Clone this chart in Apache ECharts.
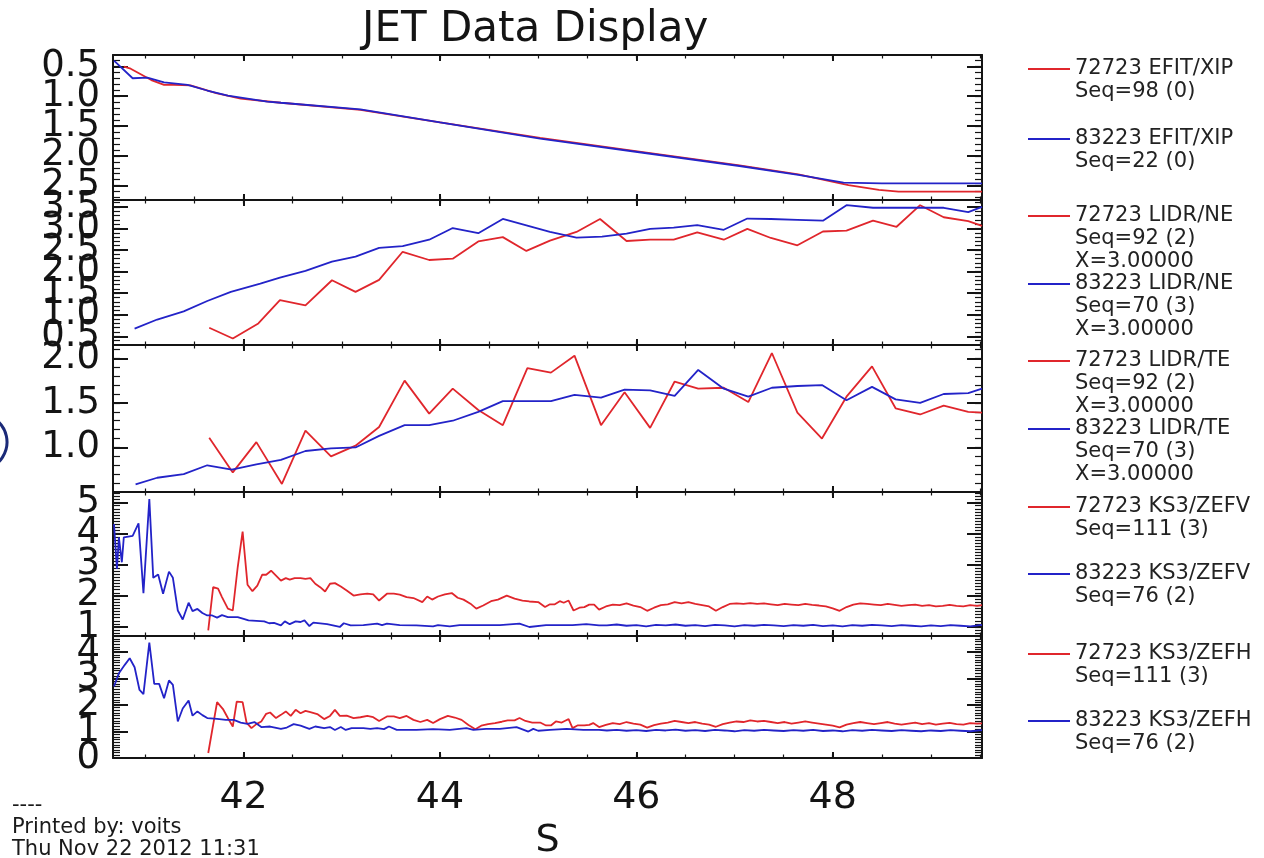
<!DOCTYPE html>
<html><head><meta charset="utf-8">
<script src="https://cdn.jsdelivr.net/npm/echarts@6/dist/echarts.min.js"></script>
<style>html,body{margin:0;padding:0;background:#fff}#c{width:1264px;height:858px}</style>
</head><body><div id="c"></div><script>
// ---------------- DATA ----------------
const xTickValues = [42, 44, 46, 48];
const xTickLabels = ['42', '44', '46', '48'];

const yTickValues = [
  [0.5, 1.0, 1.5, 2.0, 2.5],
  [0.5, 1.0, 1.5, 2.0, 2.5, 3.0, 3.5],
  [1.0, 1.5, 2.0],
  [1, 2, 3, 4, 5],
  [0, 1, 2, 3, 4]
];
const yTickLabels = [
  ['0.5', '1.0', '1.5', '2.0', '2.5'],
  ['0.5', '1.0', '1.5', '2.0', '2.5', '3.0', '3.5'],
  ['1.0', '1.5', '2.0'],
  ['1', '2', '3', '4', '5'],
  ['0', '1', '2', '3', '4']
];

// Panel 1: EFIT/XIP
const xipRedX = [40.78, 40.85, 41.06, 41.19, 41.29, 41.46, 41.72, 41.97, 42.38, 43.19, 44.00, 45.02, 46.03, 47.05, 47.65, 48.16, 48.47, 48.67, 49.52];
const xipRedY = [0.505, 0.54, 0.73, 0.81, 0.81, 0.82, 0.95, 1.04, 1.11, 1.23, 1.44, 1.70, 1.93, 2.16, 2.31, 2.49, 2.57, 2.60, 2.60];
const xipBlueX = [40.68, 40.87, 41.02, 41.19, 41.43, 41.63, 41.84, 42.04, 42.24, 42.38, 43.19, 44.00, 45.02, 46.03, 47.05, 47.65, 48.11, 48.50, 49.52];
const xipBlueY = [0.405, 0.70, 0.69, 0.77, 0.81, 0.905, 0.99, 1.04, 1.09, 1.11, 1.22, 1.44, 1.71, 1.94, 2.17, 2.32, 2.45, 2.46, 2.46];

// Panel 2: LIDR/NE
const neRedX = [41.65, 41.89, 42.15, 42.37, 42.63, 42.90, 43.14, 43.38, 43.62, 43.89, 44.13, 44.39, 44.64, 44.88, 45.12, 45.39, 45.63, 45.90, 46.14, 46.38, 46.62, 46.89, 47.13, 47.37, 47.64, 47.90, 48.14, 48.41, 48.65, 48.89, 49.13, 49.38, 49.52];
const neRedY = [0.70, 0.45, 0.80, 1.34, 1.22, 1.80, 1.53, 1.81, 2.46, 2.27, 2.30, 2.70, 2.80, 2.48, 2.72, 2.92, 3.22, 2.71, 2.74, 2.74, 2.91, 2.74, 2.99, 2.78, 2.61, 2.93, 2.95, 3.18, 3.04, 3.54, 3.26, 3.17, 3.06];
const neBlueX = [40.89, 41.12, 41.39, 41.63, 41.87, 42.17, 42.37, 42.63, 42.90, 43.14, 43.38, 43.62, 43.89, 44.13, 44.39, 44.64, 44.88, 45.12, 45.39, 45.65, 45.90, 46.14, 46.38, 46.62, 46.89, 47.13, 47.37, 47.64, 47.90, 48.14, 48.41, 48.65, 48.89, 49.13, 49.38, 49.52];
const neBlueY = [0.68, 0.89, 1.08, 1.32, 1.53, 1.72, 1.86, 2.02, 2.23, 2.35, 2.55, 2.59, 2.74, 3.01, 2.89, 3.22, 3.07, 2.92, 2.79, 2.81, 2.88, 2.99, 3.02, 3.08, 2.97, 3.23, 3.22, 3.20, 3.18, 3.54, 3.48, 3.48, 3.48, 3.48, 3.38, 3.50];

// Panel 3: LIDR/TE
const teRedX = [41.65, 41.89, 42.13, 42.39, 42.63, 42.89, 43.14, 43.38, 43.64, 43.89, 44.13, 44.39, 44.64, 44.89, 45.13, 45.37, 45.64, 45.88, 46.14, 46.39, 46.63, 46.89, 47.14, 47.38, 47.64, 47.89, 48.14, 48.40, 48.64, 48.89, 49.13, 49.38, 49.52];
const teRedY = [1.11, 0.72, 1.06, 0.59, 1.19, 0.90, 1.02, 1.23, 1.75, 1.38, 1.66, 1.42, 1.25, 1.89, 1.84, 2.03, 1.25, 1.62, 1.22, 1.74, 1.66, 1.67, 1.51, 2.06, 1.39, 1.10, 1.57, 1.91, 1.44, 1.37, 1.47, 1.40, 1.39];
const teBlueX = [40.90, 41.12, 41.39, 41.63, 41.88, 42.13, 42.38, 42.63, 42.89, 43.14, 43.38, 43.64, 43.89, 44.13, 44.39, 44.64, 44.89, 45.13, 45.37, 45.64, 45.88, 46.14, 46.39, 46.63, 46.89, 47.14, 47.38, 47.64, 47.89, 48.14, 48.40, 48.64, 48.89, 49.13, 49.38, 49.52];
const teBlueY = [0.585, 0.66, 0.70, 0.80, 0.75, 0.81, 0.86, 0.96, 0.99, 1.00, 1.13, 1.25, 1.25, 1.30, 1.40, 1.52, 1.52, 1.52, 1.59, 1.56, 1.65, 1.64, 1.58, 1.87, 1.66, 1.57, 1.67, 1.69, 1.70, 1.53, 1.68, 1.54, 1.50, 1.60, 1.61, 1.66];

// Panel 4: KS3/ZEFV
const zefvRedX = [41.64, 41.69, 41.74, 41.78, 41.84, 41.89, 41.94, 41.99, 42.04, 42.09, 42.14, 42.19, 42.23, 42.28, 42.33, 42.38, 42.43, 42.47, 42.52, 42.58, 42.63, 42.68, 42.73, 42.78, 42.83, 42.88, 42.93, 42.99, 43.05, 43.12, 43.19, 43.26, 43.32, 43.38, 43.46, 43.53, 43.59, 43.66, 43.73, 43.82, 43.87, 43.92, 43.98, 44.05, 44.12, 44.18, 44.24, 44.31, 44.37, 44.44, 44.52, 44.59, 44.68, 44.76, 44.84, 44.91, 45.00, 45.07, 45.12, 45.17, 45.22, 45.26, 45.31, 45.36, 45.42, 45.47, 45.52, 45.57, 45.62,
  45.69, 45.76, 45.83, 45.90, 45.97, 46.04, 46.11, 46.18, 46.25, 46.32, 46.39, 46.46, 46.53, 46.60, 46.67, 46.74, 46.81, 46.88, 46.95, 47.02, 47.09, 47.16, 47.23, 47.30, 47.37, 47.44, 47.51, 47.58, 47.65, 47.72, 47.79, 47.86, 47.93, 48.00, 48.07, 48.14, 48.21, 48.28, 48.35, 48.42, 48.49, 48.56, 48.63, 48.70, 48.77, 48.84, 48.91, 48.98, 49.05, 49.12, 49.19, 49.26, 49.33, 49.40, 49.47, 49.52];
const zefvRedY = [0.89, 2.28, 2.23, 1.96, 1.59, 1.53, 2.92, 4.07, 2.36, 2.15, 2.33, 2.68, 2.68, 2.81, 2.65, 2.49, 2.57, 2.52, 2.57, 2.57, 2.55, 2.57, 2.39, 2.28, 2.14, 2.39, 2.41, 2.30, 2.17, 2.01, 2.05, 2.07, 2.05, 1.85, 2.07, 2.07, 2.04, 1.96, 1.93, 1.80, 1.98, 1.88, 1.98, 2.05, 2.09, 1.94, 1.88, 1.75, 1.59, 1.69, 1.83, 1.88, 2.01, 1.91, 1.85, 1.82, 1.80, 1.64, 1.73, 1.73, 1.83, 1.78, 1.85, 1.53, 1.62, 1.64, 1.72, 1.72, 1.56,
  1.66, 1.72, 1.70, 1.76, 1.69, 1.64, 1.52, 1.62, 1.70, 1.73, 1.80, 1.76, 1.80, 1.74, 1.70, 1.66, 1.52, 1.64, 1.74, 1.76, 1.74, 1.77, 1.74, 1.76, 1.73, 1.70, 1.74, 1.72, 1.70, 1.74, 1.71, 1.69, 1.66, 1.60, 1.52, 1.64, 1.72, 1.76, 1.74, 1.72, 1.70, 1.74, 1.71, 1.68, 1.70, 1.72, 1.68, 1.70, 1.66, 1.68, 1.71, 1.68, 1.66, 1.70, 1.68, 1.70];
const zefvBlueX = [40.68, 40.71, 40.73, 40.76, 40.78, 40.87, 40.93, 40.98, 41.04, 41.08, 41.13, 41.18, 41.24, 41.28, 41.33, 41.38, 41.44, 41.48, 41.53, 41.58, 41.63, 41.68, 41.73, 41.78, 41.84, 41.94, 42.00, 42.05, 42.21, 42.26, 42.31, 42.38, 42.42, 42.47, 42.53, 42.58, 42.62, 42.67, 42.71, 42.85, 42.98, 43.02, 43.09, 43.22, 43.36, 43.41, 43.46, 43.59, 43.76, 43.93, 43.98, 44.10, 44.20, 44.44, 44.61, 44.81, 44.91, 45.08, 45.35, 45.49, 45.62,
  45.70, 45.80, 45.90, 46.00, 46.10, 46.20, 46.30, 46.40, 46.50, 46.60, 46.70, 46.80, 46.90, 47.00, 47.10, 47.20, 47.30, 47.40, 47.50, 47.60, 47.70, 47.80, 47.90, 48.00, 48.10, 48.20, 48.30, 48.40, 48.50, 48.60, 48.70, 48.80, 48.90, 49.00, 49.10, 49.20, 49.30, 49.40, 49.52];
const zefvBlueY = [4.31, 2.87, 3.88, 3.08, 3.88, 3.93, 4.33, 2.09, 5.11, 2.58, 2.69, 2.07, 2.78, 2.58, 1.53, 1.24, 1.78, 1.51, 1.58, 1.45, 1.37, 1.37, 1.30, 1.38, 1.32, 1.32, 1.26, 1.21, 1.18, 1.12, 1.13, 1.05, 1.18, 1.09, 1.18, 1.16, 1.21, 1.03, 1.14, 1.09, 1.00, 1.12, 1.05, 1.06, 1.11, 1.06, 1.11, 1.06, 1.05, 1.02, 1.06, 1.02, 1.06, 1.06, 1.06, 1.11, 1.00, 1.06, 1.06, 1.09, 1.05,
  1.05, 1.08, 1.04, 1.06, 1.02, 1.07, 1.05, 1.08, 1.04, 1.06, 1.03, 1.07, 1.05, 1.02, 1.06, 1.04, 1.07, 1.05, 1.03, 1.06, 1.04, 1.07, 1.03, 1.05, 1.02, 1.06, 1.04, 1.07, 1.05, 1.03, 1.06, 1.04, 1.02, 1.05, 1.03, 1.06, 1.04, 1.02, 1.07];

// Panel 5: KS3/ZEFH
const zefhRedX = [41.64, 41.73, 41.79, 41.84, 41.89, 41.93, 41.99, 42.03, 42.08, 42.13, 42.18, 42.23, 42.27, 42.33, 42.38, 42.43, 42.48, 42.53, 42.58, 42.63, 42.68, 42.75, 42.82, 42.88, 42.93, 42.98, 43.05, 43.12, 43.19, 43.26, 43.32, 43.38, 43.46, 43.53, 43.59, 43.66, 43.73, 43.80, 43.87, 43.93, 44.00, 44.08, 44.15, 44.22, 44.29, 44.36, 44.42, 44.49, 44.56, 44.63, 44.69, 44.76, 44.81, 44.87, 44.94, 45.02, 45.08, 45.13, 45.18, 45.24, 45.27, 45.31, 45.35, 45.40, 45.47, 45.52, 45.56, 45.62,
  45.69, 45.76, 45.83, 45.90, 45.97, 46.04, 46.11, 46.18, 46.25, 46.32, 46.39, 46.46, 46.53, 46.60, 46.67, 46.74, 46.81, 46.88, 46.95, 47.02, 47.09, 47.16, 47.23, 47.30, 47.37, 47.44, 47.51, 47.58, 47.65, 47.72, 47.79, 47.86, 47.93, 48.00, 48.07, 48.14, 48.21, 48.28, 48.35, 48.42, 48.49, 48.56, 48.63, 48.70, 48.77, 48.84, 48.91, 48.98, 49.05, 49.12, 49.19, 49.26, 49.33, 49.40, 49.47, 49.52];
const zefhRedY = [0.19, 2.11, 1.85, 1.51, 1.19, 2.13, 2.11, 1.34, 1.13, 1.28, 1.38, 1.67, 1.72, 1.51, 1.63, 1.76, 1.59, 1.82, 1.69, 1.78, 1.73, 1.66, 1.47, 1.59, 1.82, 1.59, 1.60, 1.51, 1.54, 1.59, 1.54, 1.40, 1.57, 1.57, 1.51, 1.59, 1.44, 1.36, 1.44, 1.32, 1.47, 1.59, 1.53, 1.44, 1.25, 1.09, 1.22, 1.28, 1.32, 1.37, 1.42, 1.42, 1.51, 1.40, 1.34, 1.34, 1.23, 1.23, 1.38, 1.34, 1.40, 1.47, 1.13, 1.23, 1.23, 1.25, 1.32, 1.17,
  1.25, 1.32, 1.28, 1.36, 1.30, 1.26, 1.15, 1.24, 1.30, 1.34, 1.40, 1.36, 1.32, 1.36, 1.30, 1.26, 1.18, 1.28, 1.34, 1.38, 1.36, 1.42, 1.38, 1.40, 1.36, 1.32, 1.36, 1.30, 1.34, 1.38, 1.34, 1.30, 1.26, 1.22, 1.16, 1.26, 1.32, 1.36, 1.32, 1.28, 1.32, 1.36, 1.30, 1.26, 1.30, 1.34, 1.28, 1.32, 1.26, 1.30, 1.33, 1.28, 1.26, 1.32, 1.30, 1.31];
const zefhBlueX = [40.68, 40.73, 40.79, 40.84, 40.89, 40.94, 40.98, 41.04, 41.09, 41.14, 41.19, 41.24, 41.28, 41.33, 41.38, 41.44, 41.48, 41.53, 41.58, 41.63, 41.73, 41.82, 41.90, 41.97, 42.04, 42.11, 42.18, 42.27, 42.38, 42.44, 42.51, 42.58, 42.67, 42.73, 42.82, 42.88, 42.93, 42.99, 43.04, 43.10, 43.22, 43.29, 43.36, 43.43, 43.48, 43.56, 43.76, 43.93, 44.10, 44.27, 44.34, 44.47, 44.61, 44.78, 44.90, 44.95, 45.00, 45.12, 45.29, 45.46, 45.62,
  45.70, 45.80, 45.90, 46.00, 46.10, 46.20, 46.30, 46.40, 46.50, 46.60, 46.70, 46.80, 46.90, 47.00, 47.10, 47.20, 47.30, 47.40, 47.50, 47.60, 47.70, 47.80, 47.90, 48.00, 48.10, 48.20, 48.30, 48.40, 48.50, 48.60, 48.70, 48.80, 48.90, 49.00, 49.10, 49.20, 49.30, 49.40, 49.52];
const zefhBlueY = [2.70, 3.20, 3.52, 3.77, 3.43, 2.57, 2.41, 4.36, 2.80, 2.80, 2.26, 2.93, 2.76, 1.38, 1.87, 2.17, 1.60, 1.76, 1.62, 1.51, 1.48, 1.44, 1.44, 1.34, 1.29, 1.36, 1.17, 1.19, 1.10, 1.15, 1.28, 1.22, 1.10, 1.19, 1.13, 1.17, 1.06, 1.17, 1.06, 1.13, 1.13, 1.10, 1.13, 1.09, 1.19, 1.06, 1.06, 1.09, 1.06, 1.13, 1.06, 1.10, 1.10, 1.17, 1.00, 1.10, 1.03, 1.06, 1.10, 1.06, 1.06,
  1.04, 1.06, 1.03, 1.05, 1.02, 1.06, 1.04, 1.07, 1.03, 1.05, 1.02, 1.06, 1.04, 1.01, 1.05, 1.03, 1.06, 1.04, 1.02, 1.05, 1.03, 1.06, 1.02, 1.04, 1.01, 1.05, 1.03, 1.06, 1.04, 1.02, 1.05, 1.03, 1.01, 1.04, 1.02, 1.05, 1.03, 1.01, 1.05];

const seriesNames = ['72723 EFIT/XIP', '83223 EFIT/XIP', '72723 LIDR/NE', '83223 LIDR/NE', '72723 LIDR/TE', '83223 LIDR/TE', '72723 KS3/ZEFV', '83223 KS3/ZEFV', '72723 KS3/ZEFH', '83223 KS3/ZEFH'];
const legendSubLines = [
  ['Seq=98 (0)'], ['Seq=22 (0)'],
  ['Seq=92 (2)', 'X=3.00000'], ['Seq=70 (3)', 'X=3.00000'],
  ['Seq=92 (2)', 'X=3.00000'], ['Seq=70 (3)', 'X=3.00000'],
  ['Seq=111 (3)'], ['Seq=76 (2)'],
  ['Seq=111 (3)'], ['Seq=76 (2)']
];
const footerLines = ['----', 'Printed by: voits', 'Thu Nov 22 2012 11:31'];

// ---------------- LAYOUT / STYLE ----------------
const FONT = "'DejaVu Sans', 'Liberation Sans', sans-serif";
const INK = '#141414';
const RED = '#e0262c';
const BLUE = '#2323c8';
const X_MIN = 40.67, X_MAX = 49.52;
const GRID_LEFT = 113, GRID_W = 869;
const panels = [
  { top: 55,  height: 145, min: 0.31, max: 2.74, inverse: true,  majorTicks: [0.5, 1, 1.5, 2, 2.5],           minor: [0.4, 2.7] },
  { top: 200, height: 145, min: 0.30, max: 3.66, inverse: false, majorTicks: [0.5, 1, 1.5, 2, 2.5, 3, 3.5],   minor: [0.4, 3.6] },
  { top: 345, height: 147, min: 0.50, max: 2.15, inverse: false, majorTicks: [0.5, 1, 1.5, 2],                minor: [0.6, 2.1] },
  { top: 492, height: 144, min: 0.71, max: 5.34, inverse: false, majorTicks: [1, 2, 3, 4, 5],                 minor: [0.8, 5.3] },
  { top: 636, height: 122, min: 0.00, max: 4.61, inverse: false, majorTicks: [0, 1, 2, 3, 4],                 minor: [0.1, 4.6] }
];
function steps(a, b, s) { const out = []; for (let v = a; v <= b + 1e-9; v += s) out.push(Math.round(v * 1000) / 1000); return out; }
const xMinorTicks = steps(41, 49.5, 0.5);

const grid = [], xAxis = [], yAxis = [];
const mainY = []; // index of the main (left) y axis for each panel
panels.forEach((p, g) => {
  grid.push({ left: GRID_LEFT, width: GRID_W, top: p.top, height: p.height, outerBoundsMode: 'none', containLabel: false });
  const mainX = xAxis.length;
  ['bottom', 'top'].forEach(pos => {
    const isLabelled = (g === 4 && pos === 'bottom');
    xAxis.push({
      gridIndex: g, type: 'value', position: pos, min: X_MIN, max: X_MAX,
      axisLine: { show: true, onZero: false, lineStyle: { color: INK, width: 2 } },
      axisTick: { show: true, inside: true, length: 6, customValues: xTickValues, lineStyle: { color: INK, width: 2 } },
      axisLabel: isLabelled ? {
        show: true, customValues: xTickValues, margin: 21, showMinLabel: true, showMaxLabel: true,
        formatter: v => xTickLabels[xTickValues.indexOf(v)],
        fontSize: 38, fontFamily: FONT, color: INK
      } : { show: false },
      name: isLabelled ? 'S' : '', nameLocation: 'middle', nameGap: 64,
      nameTextStyle: { fontSize: 38, fontFamily: FONT, color: INK },
      splitLine: { show: false }, minorTick: { show: false }
    });
    xAxis.push({
      gridIndex: g, type: 'value', position: pos, min: X_MIN, max: X_MAX,
      axisLine: { show: false, onZero: false },
      axisTick: { show: true, inside: true, length: 3.5, customValues: xMinorTicks, lineStyle: { color: INK, width: 1.2 } },
      axisLabel: { show: false }, splitLine: { show: false }
    });
  });
  p.mainX = mainX;
  p.mainY = yAxis.length;
  ['left', 'right'].forEach(pos => {
    yAxis.push({
      gridIndex: g, type: 'value', position: pos, min: p.min, max: p.max, inverse: p.inverse,
      axisLine: { show: true, onZero: false, lineStyle: { color: INK, width: 2 } },
      axisTick: { show: true, inside: true, length: 15, customValues: p.majorTicks, lineStyle: { color: INK, width: 2 } },
      axisLabel: { show: false }, splitLine: { show: false }
    });
    yAxis.push({
      gridIndex: g, type: 'value', position: pos, min: p.min, max: p.max, inverse: p.inverse,
      axisLine: { show: false, onZero: false },
      axisTick: { show: true, inside: true, length: 7, customValues: steps(p.minor[0], p.minor[1], 0.1), lineStyle: { color: INK, width: 1.2 } },
      axisLabel: { show: false }, splitLine: { show: false }
    });
  });
  // one label-only axis per tick label, so the big overlapping IDL-style labels are all kept
  yTickValues[g].forEach((v, k) => {
    yAxis.push({
      gridIndex: g, type: 'value', position: 'left', min: p.min, max: p.max, inverse: p.inverse,
      axisLine: { show: false, onZero: false }, axisTick: { show: false }, splitLine: { show: false },
      axisLabel: {
        show: true, customValues: [v], margin: 13, showMinLabel: true, showMaxLabel: true,
        formatter: () => yTickLabels[g][k],
        fontSize: 37, fontFamily: FONT, color: INK
      }
    });
  });
});

function zip(xs, ys) { return xs.map((x, i) => [x, ys[i]]); }
const seriesData = [
  [xipRedX, xipRedY], [xipBlueX, xipBlueY],
  [neRedX, neRedY], [neBlueX, neBlueY],
  [teRedX, teRedY], [teBlueX, teBlueY],
  [zefvRedX, zefvRedY], [zefvBlueX, zefvBlueY],
  [zefhRedX, zefhRedY], [zefhBlueX, zefhBlueY]
];
const series = seriesData.map((d, i) => {
  const p = panels[Math.floor(i / 2)];
  const color = i % 2 === 0 ? RED : BLUE;
  return {
    name: seriesNames[i], type: 'line', xAxisIndex: p.mainX, yAxisIndex: p.mainY,
    data: zip(d[0], d[1]), symbol: 'none', showSymbol: false, silent: true,
    lineStyle: { color: color, width: 1.8 }, itemStyle: { color: color }, clip: true
  };
});

// legends: one per series; leading blank lines keep the icon level with the first text line
const LEG_LH = 23;
const legendIconY = [70, 140, 217, 285, 362, 430, 508, 575, 655, 722];
const legend = seriesNames.map((name, i) => {
  const n = 1 + legendSubLines[i].length;
  return {
    show: true, orient: 'vertical', left: 1028, top: legendIconY[i] - 1 - (2 * n - 1) * LEG_LH / 2,
    padding: 0, itemWidth: 42, itemHeight: 2, icon: 'rect', selectedMode: false,
    data: [name],
    formatter: nm => '\n'.repeat(n - 1) + [nm].concat(legendSubLines[i]).join('\n'),
    textStyle: { fontFamily: FONT, fontSize: 21, lineHeight: LEG_LH, color: '#222' }
  };
});

const option = {
  animation: false,
  backgroundColor: '#ffffff',
  title: { text: 'JET Data Display', left: 362, top: 9, padding: 0,
    textStyle: { fontFamily: FONT, fontSize: 42, fontWeight: 'normal', color: INK } },
  grid, xAxis, yAxis, series, legend,
  graphic: [
    { type: 'text', left: 12, top: 795, silent: true,
      style: { text: footerLines.join('\n'), font: '21px ' + FONT, lineHeight: 22, fill: '#1a1a1a' } },
    { type: 'arc', silent: true, shape: { cx: -21, cy: 442, r: 28, startAngle: -1.0, endAngle: 1.0 },
      style: { stroke: '#1b2a78', lineWidth: 3, fill: null } }
  ]
};
const chart = echarts.init(document.getElementById('c'), null, { renderer: 'canvas' });
chart.setOption(option);
</script></body></html>
